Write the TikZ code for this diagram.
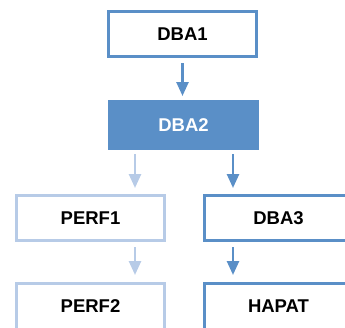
\documentclass[tikz,border=0pt]{standalone}
\usepackage{fontspec}
\setmainfont{Liberation Sans}
\usetikzlibrary{arrows.meta,positioning,calc}
\definecolor{darkblue}{HTML}{5A8FC7}
\definecolor{lightblue}{HTML}{B7CBE7}

\begin{document}
\begin{tikzpicture}[>={Triangle[width=12pt,length=14pt]}]
\tikzstyle{box}=[draw,line width=3pt,fill=white,align=center,minimum width=148pt,minimum height=45pt,font=\bfseries\fontsize{18.5}{20}\selectfont]
\tikzstyle{dbox}=[box,draw=darkblue]
\tikzstyle{lbox}=[box,draw=lightblue]
\tikzstyle{cut}=[minimum height=52pt,text depth=7pt]
\tikzstyle{darr}=[->,line width=2.5pt,darkblue,shorten <=4pt,shorten >=6pt]
\tikzstyle{larr}=[->,line width=2.5pt,lightblue,shorten <=4pt,shorten >=6pt]
\useasboundingbox (0,0) rectangle (345pt,-327pt);
\node[dbox] (dba1) at (182.5pt,-34pt) {DBA1};
\node[dbox,fill=darkblue,text=white,minimum height=47pt,below=42pt of dba1,xshift=1pt] (dba2) {DBA2};
\node[lbox,below=44pt of dba2,xshift=-93pt] (perf1) {PERF1};
\node[dbox,below=44pt of dba2,xshift=95pt] (dba3) {DBA3};
\node[lbox,cut,below=40pt of perf1] (perf2) {PERF2};
\node[dbox,cut,below=40pt of dba3] (hapat) {HAPAT};
% arrows
\coordinate (la) at ($(dba2.south west)+(27pt,0)$);
\coordinate (ra) at ($(dba2.south east)+(-26pt,0)$);
\draw[darr,shorten <=5pt,shorten >=4pt] (dba1.south) -- (dba1.south |- dba2.north);
\draw[larr] (la) -- (la |- perf1.north);
\draw[darr] (ra) -- (ra |- dba3.north);
\draw[larr,shorten <=5pt,shorten >=7pt] (la |- perf1.south) -- (la |- perf2.north);
\draw[darr,shorten <=5pt,shorten >=7pt] (ra |- dba3.south) -- (ra |- hapat.north);
\end{tikzpicture}
\end{document}
